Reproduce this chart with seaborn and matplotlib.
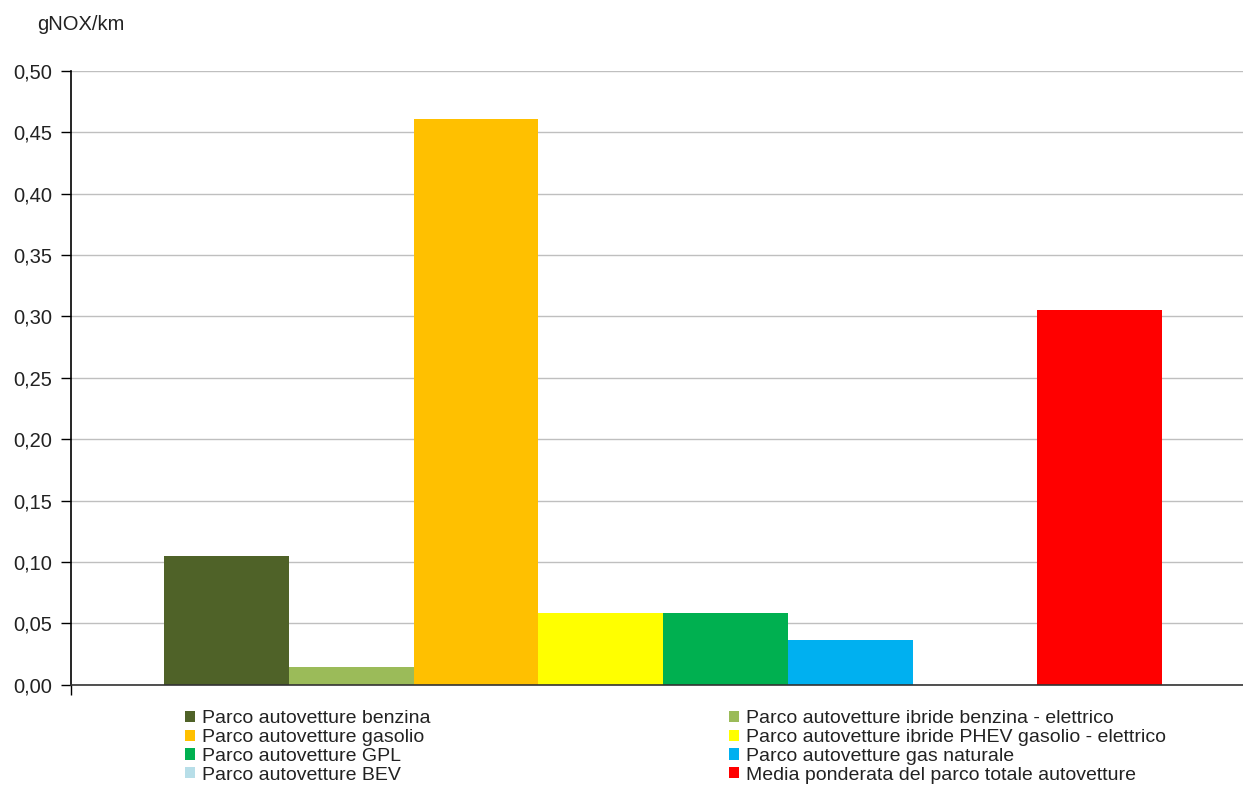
import matplotlib
matplotlib.use('Agg')
import matplotlib.pyplot as plt
from matplotlib.patches import Patch
from matplotlib.ticker import FuncFormatter, MultipleLocator
import seaborn as sns
import pandas as pd

# Dati (gNOX/km)
categorie = [
    'Parco autovetture benzina',
    'Parco autovetture ibride benzina - elettrico',
    'Parco autovetture gasolio',
    'Parco autovetture ibride PHEV gasolio - elettrico',
    'Parco autovetture GPL',
    'Parco autovetture gas naturale',
    'Parco autovetture BEV',
    'Media ponderata del parco totale autovetture',
]
valori = [0.105, 0.0144, 0.4606, 0.0582, 0.0582, 0.0365, 0.0, 0.3054]
colori = ['#4F6228', '#9BBB59', '#FFC000', '#FFFF00',
          '#00B050', '#00B0F0', '#B7DEE8', '#FF0000']

sns.set_theme(style='white')
plt.rcParams['font.family'] = ['Liberation Sans', 'DejaVu Sans']

df = pd.DataFrame({'categoria': categorie, 'valore': valori})

fig = plt.figure(figsize=(12.43, 8.09), dpi=100)
W, H = 1243, 809
ax = fig.add_axes([71 / W, 1 - 684.7 / H, (1243 - 71) / W, (684.7 - 71) / H])

sns.barplot(data=df, x='categoria', y='valore', hue='categoria',
            palette=colori, order=categorie, hue_order=categorie,
            width=1.0, saturation=1, legend=False, linewidth=0, ax=ax)

xmin, xmax = -1.248, 8.149
ax.set_xlim(xmin, xmax)
ax.set_ylim(0, 0.5)
ax.yaxis.set_major_locator(MultipleLocator(0.05))
ax.yaxis.set_major_formatter(FuncFormatter(lambda v, p: f'{v:.2f}'.replace('.', ',')))
ax.set_xticks([xmin])
ax.set_xticklabels([''])
ax.set_xlabel('')
ax.set_ylabel('')

ax.grid(axis='y', color='#BFBFBF', linewidth=1.0)
ax.grid(axis='x', visible=False)
ax.set_axisbelow(True)
for s in ['top', 'right']:
    ax.spines[s].set_visible(False)
ax.spines['left'].set_color('#000000')
ax.spines['left'].set_linewidth(1.2)
ax.spines['bottom'].set_color('#333333')
ax.spines['bottom'].set_linewidth(1.2)
ax.tick_params(axis='y', direction='out', length=7, width=1, color='#000000',
               labelsize=14.5, labelcolor='#222222', pad=6.5, left=True)
ax.tick_params(axis='x', direction='out', length=7, width=1, color='#000000', bottom=True)

fig.text(37 / W, 1 - 25 / H, 'gNOX/km', fontsize=14.5, color='#222222',
         ha='left', va='center')

# Legenda su due colonne
handles = [Patch(facecolor=c, edgecolor='none') for c in colori]
col1 = [0, 2, 4, 6]
col2 = [1, 3, 5, 7]
for idx, xpos in [(col1, 185), (col2, 729)]:
    leg = fig.legend([handles[i] for i in idx], [categorie[i] for i in idx],
                     loc='upper left', bbox_to_anchor=(xpos / W, 1 - 710 / H),
                     frameon=False, fontsize=14, handlelength=0.5,
                     handleheight=0.5, handletextpad=0.4, labelspacing=0.1,
                     borderpad=0, borderaxespad=0)
    for t in leg.get_texts():
        t.set_color('#222222')

fig.savefig('out.png', dpi=100)
